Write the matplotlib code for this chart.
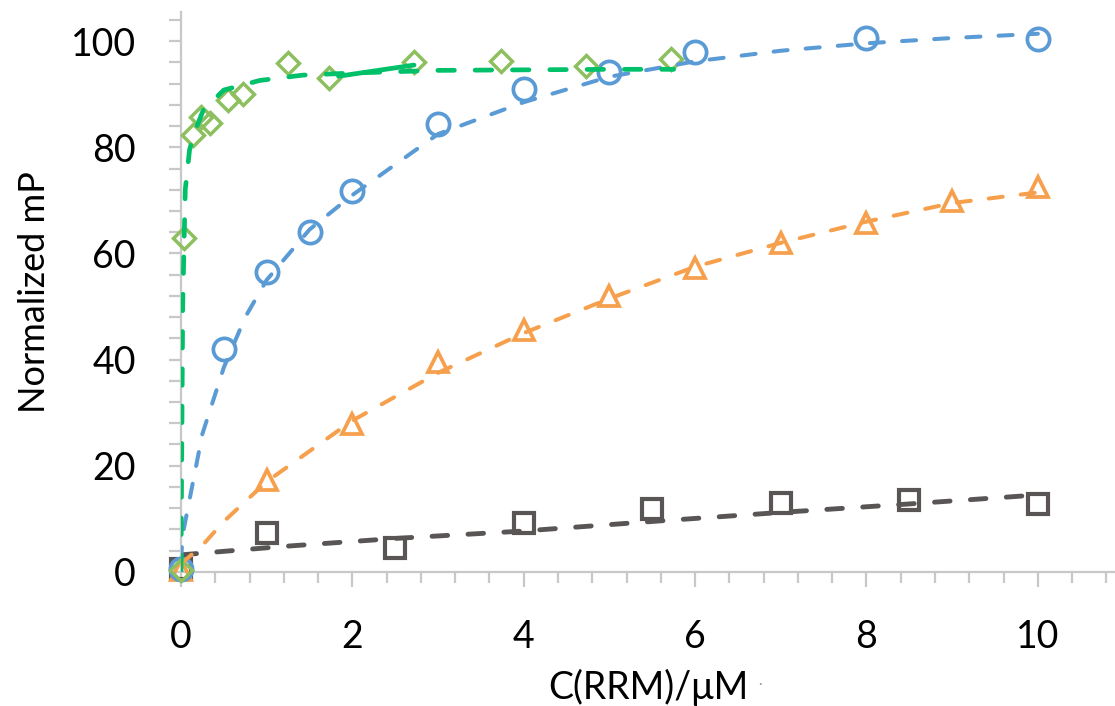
import numpy as np
import matplotlib
matplotlib.use('Agg')
import matplotlib.pyplot as plt
from matplotlib.ticker import MultipleLocator

plt.rcParams['font.family'] = ['Lato', 'DejaVu Sans']

# measured points
x_green = [0, 0.03, 0.14, 0.23, 0.34, 0.55, 0.72, 1.25, 1.73, 2.72, 3.73, 4.73, 5.72]
y_green = [0.3, 63.0, 82.3, 85.7, 84.6, 89.0, 90.0, 95.8, 93.1, 96.0, 96.2, 95.3, 96.6]

x_blue = [0, 0.5, 1, 1.5, 2, 3, 4, 5, 6, 8, 10]
y_blue = [0.5, 42.0, 56.5, 64.0, 71.8, 84.4, 91.0, 94.2, 98.0, 100.6, 100.4]

x_orange = [0, 1, 2, 3, 4, 5, 6, 7, 8, 9, 10]
y_orange = [0.4, 17.3, 27.9, 39.5, 45.6, 52.0, 57.3, 62.0, 65.7, 69.9, 72.5]

x_grey = [0, 1, 2.5, 4, 5.5, 7, 8.5, 10]
y_grey = [0.5, 7.4, 4.5, 9.2, 11.9, 13.0, 13.6, 12.8]

# fitted curves
fx_green = [0, 0.01, 0.02, 0.05, 0.1, 0.15, 0.26, 0.5, 0.92, 1.42, 2, 3, 4, 5, 5.75]
fy_green = [0, 25, 50, 72, 79.5, 82.5, 87, 90.8, 92.6, 93.6, 94.0, 94.5, 94.6, 94.7, 94.7]
sx_green = [1.84, 2.72]
sy_green = [93.4, 95.5]

fx_blue = [0, 0.02, 0.25, 0.5, 0.75, 1, 1.5, 2, 3, 4, 5, 6, 7, 8, 9, 10]
fy_blue = [2, 7, 26, 38.5, 48, 55, 64.5, 71, 82.5, 88.5, 93.3, 96.2, 98.2, 99.6, 100.6, 101.4]

fx_orange = [0, 0.25, 0.5, 1, 2, 3, 4, 5, 6, 7, 8, 9, 10]
fy_orange = [1.5, 5, 9.5, 17, 28.5, 37.5, 45, 51.5, 57.5, 62, 66, 69.5, 71.5]

fx_grey = [0, 1.2, 2.5, 4, 5.5, 7, 8.5, 10]
fy_grey = [3.2, 4.8, 6.3, 7.7, 9.5, 11.2, 12.8, 14.5]

c_blue = '#5B9BD5'
c_orange = '#F6A04D'
c_grey = '#595555'
c_diam = '#8DBF5E'
c_gline = '#00C16A'
c_axis = '#C8C8C8'

fig = plt.figure(figsize=(11.15, 7.06), dpi=100)
ax = fig.add_axes([0.1623, 0.19, 0.8377, 0.793])

# markers
ax.plot(x_grey, y_grey, 's', ms=15, mfc='none', mec=c_grey, mew=3.0, clip_on=False, zorder=3)
ax.plot(x_orange, y_orange, '^', ms=14.5, mfc='none', mec=c_orange, mew=2.7, clip_on=False, zorder=3)
ax.plot(x_blue, y_blue, 'o', ms=16, mfc='none', mec=c_blue, mew=2.7, clip_on=False, zorder=3)
ax.plot(x_green, y_green, 'D', ms=11, mfc='none', mec=c_diam, mew=2.5, clip_on=False, zorder=3)

# fit curves
ax.plot(fx_grey, fy_grey, color=c_grey, lw=3.5, dashes=(3.2, 4.2), dash_capstyle='round', zorder=4)
ax.plot(fx_orange, fy_orange, color=c_orange, lw=2.9, dashes=(3.5, 4.5), dash_capstyle='round', zorder=4)
ax.plot(fx_blue, fy_blue, color=c_blue, lw=2.9, dashes=(3.5, 4.5), dash_capstyle='round', zorder=4)
ax.plot(fx_green, fy_green, color=c_gline, lw=3.4, dashes=(3.5, 4.4), dash_capstyle='round', zorder=4)
ax.plot(sx_green, sy_green, color=c_gline, lw=3.4, solid_capstyle='round', zorder=4)

ax.set_xlim(0, 10.9)
ax.set_ylim(0, 105.5)

ax.xaxis.set_major_locator(MultipleLocator(2))
ax.xaxis.set_minor_locator(MultipleLocator(0.4))
ax.yaxis.set_major_locator(MultipleLocator(20))
ax.yaxis.set_minor_locator(MultipleLocator(4))

for s in ['top', 'right']:
    ax.spines[s].set_visible(False)
for s in ['left', 'bottom']:
    ax.spines[s].set_color(c_axis)
    ax.spines[s].set_linewidth(1.6)

ax.tick_params(axis='x', which='major', length=11, width=1.6, color=c_axis, pad=23, labelsize=27)
ax.tick_params(axis='x', which='minor', length=8, width=1.6, color=c_axis)
ax.tick_params(axis='y', which='both', length=8.6, width=1.6, color=c_axis, pad=24, labelsize=27)

ax.set_ylabel('Normalized mP', fontsize=26, labelpad=14)
ax.set_xlabel('C(RRM)/μM', fontsize=27, labelpad=10)
fig.text(0.68, 0.026, '·', fontsize=10, color='#999999')

fig.savefig('out.png', dpi=100)
